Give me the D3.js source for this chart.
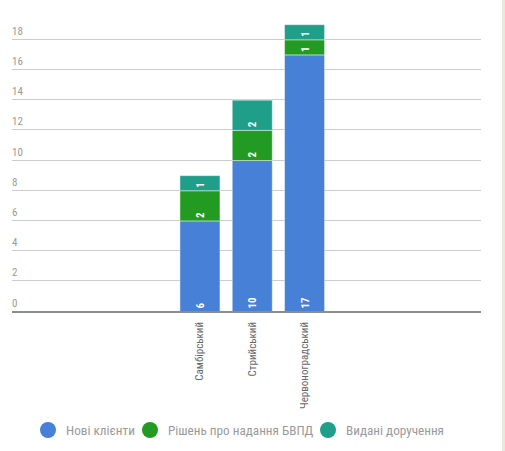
<!DOCTYPE html>
<html>
<head>
<meta charset="utf-8">
<script src="https://cdn.jsdelivr.net/npm/d3@7"></script>
<style>
  body { margin: 0; background: #fff; }
  svg { display: block; font-family: "Liberation Sans Narrow", "Roboto Condensed", Roboto, sans-serif; }
</style>
</head>
<body>
<div id="chart"></div>
<script>
(function(){
    var width = 505, height = 451;

    // data
    var districts = ["Самбірський", "Стрийський", "Червоноградський"];
    var newClients = [6, 10, 17];
    var decisions = [2, 2, 1];
    var orders = [1, 2, 1];
    var seriesNames = ["Нові клієнти", "Рішень про надання БВПД", "Видані доручення"];
    var seriesColors = ["#4680d7", "#239b22", "#1f9e89"];
    var yTicks = [0, 2, 4, 6, 8, 10, 12, 14, 16, 18];

    var rows = districts.map(function(d, i){
        return {district: d, s0: newClients[i], s1: decisions[i], s2: orders[i]};
    });
    var stack = d3.stack().keys(["s0", "s1", "s2"]);
    var layers = stack(rows);

    var svg = d3.select("#chart")
        .append("svg")
        .attr("width", width)
        .attr("height", height);

    // beige strip at the right
    svg.append("rect")
        .attr("x", 502).attr("y", 0)
        .attr("width", 3).attr("height", height)
        .attr("fill", "#ebe7da");

    var y = d3.scaleLinear()
        .domain([0, 18])
        .range([311.5, 39.8]);

    var x = d3.scaleBand()
        .domain(districts)
        .range([173.8, 330.7])
        .paddingInner(0.235)
        .paddingOuter(0.1175);

    var gridLeft = 12, gridRight = 481;

    // gridlines
    svg.append("g")
        .selectAll("line")
        .data(yTicks.slice(1))
        .enter()
        .append("line")
        .attr("x1", gridLeft)
        .attr("x2", gridRight)
        .attr("y1", function(d){ return Math.round(y(d)) - 0.5; })
        .attr("y2", function(d){ return Math.round(y(d)) - 0.5; })
        .attr("stroke", "#cccccc")
        .attr("stroke-width", 1);

    // tick labels
    svg.append("g")
        .selectAll("text")
        .data(yTicks)
        .enter()
        .append("text")
        .attr("x", gridLeft)
        .attr("y", function(d){ return y(d) - 5; })
        .attr("font-size", 11)
        .attr("fill", "#999999")
        .text(function(d){ return d; });

    // bars
    var layerG = svg.append("g")
        .selectAll("g")
        .data(layers)
        .enter()
        .append("g")
        .attr("fill", function(d, i){ return seriesColors[i]; });

    layerG.selectAll("rect")
        .data(function(d){ return d; })
        .enter()
        .append("rect")
        .attr("x", function(d){ return x(d.data.district); })
        .attr("y", function(d){ return y(d[1]); })
        .attr("width", x.bandwidth())
        .attr("height", function(d){ return y(d[0]) - y(d[1]); })
        .attr("stroke", "rgba(255,255,255,0.45)")
        .attr("stroke-width", 1);

    // value labels inside segments
    layerG.selectAll("text")
        .data(function(d){ return d; })
        .enter()
        .append("text")
        .attr("transform", function(d){
            var cx = x(d.data.district) + x.bandwidth() / 2 + 4;
            var cy = y(d[0]) - 3;
            return "translate(" + cx + "," + cy + ") rotate(-90)";
        })
        .attr("font-size", 11)
        .attr("font-weight", "bold")
        .attr("fill", "#ffffff")
        .text(function(d){ return d[1] - d[0]; });

    // baseline
    svg.append("line")
        .attr("x1", gridLeft)
        .attr("x2", gridRight)
        .attr("y1", 312)
        .attr("y2", 312)
        .attr("stroke", "#8c8c8c")
        .attr("stroke-width", 2);

    // category labels
    svg.append("g")
        .selectAll("text")
        .data(districts)
        .enter()
        .append("text")
        .attr("transform", function(d){
            return "translate(" + (x(d) + x.bandwidth() / 2 + 3.5) + ",322) rotate(-90)";
        })
        .attr("text-anchor", "end")
        .attr("font-size", 11)
        .attr("fill", "#666666")
        .text(function(d){ return d; });

    // legend
    var legendX = [48, 150, 328];
    var legend = svg.append("g")
        .selectAll("g")
        .data(seriesNames)
        .enter()
        .append("g")
        .attr("transform", function(d, i){ return "translate(" + legendX[i] + ",430)"; });

    legend.append("circle")
        .attr("r", 8)
        .attr("fill", function(d, i){ return seriesColors[i]; });

    legend.append("text")
        .attr("x", 18)
        .attr("dy", "0.35em")
        .attr("font-size", 13.2)
        .attr("fill", "#9a9a9a")
        .text(function(d){ return d; });
})();
</script>
</body>
</html>
